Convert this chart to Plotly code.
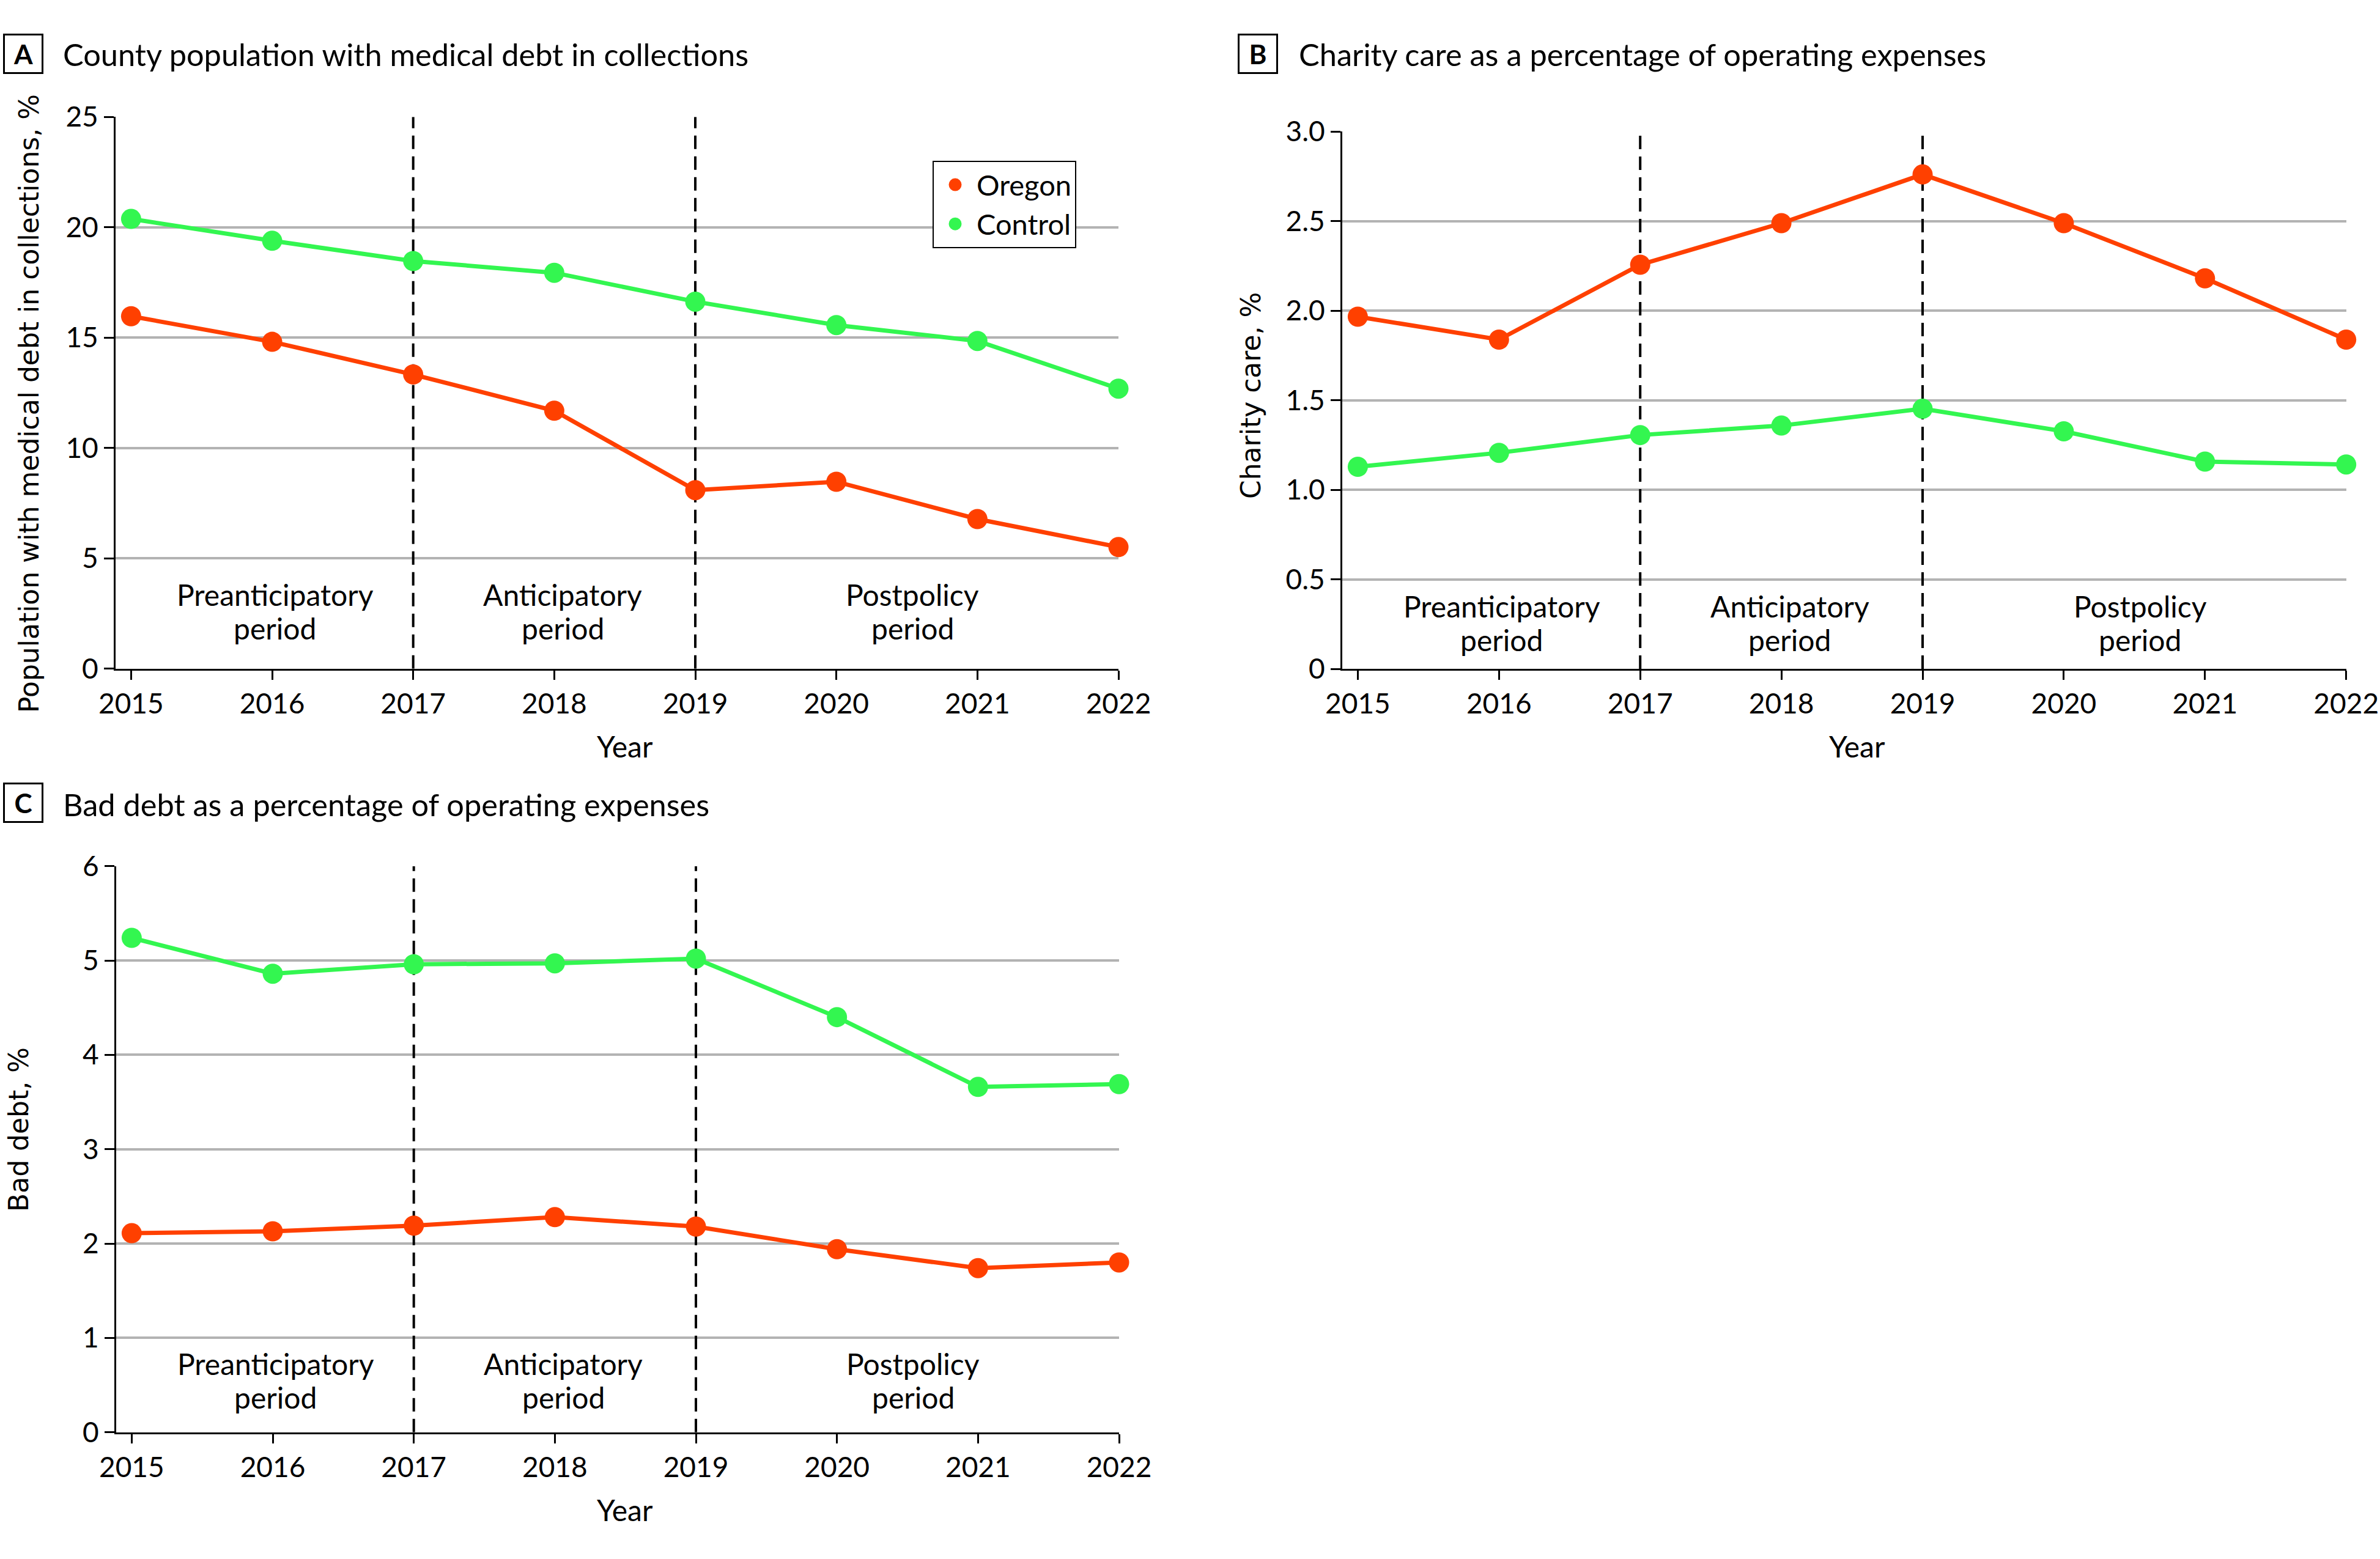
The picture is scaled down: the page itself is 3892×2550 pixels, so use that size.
import plotly.graph_objects as go

W, H = 3892, 2550

# ---------------- data ----------------
years = [2015, 2016, 2017, 2018, 2019, 2020, 2021, 2022]

debt_oregon = [15.97, 14.81, 13.33, 11.69, 8.09, 8.47, 6.78, 5.51]
debt_control = [20.38, 19.39, 18.47, 17.94, 16.63, 15.57, 14.85, 12.69]

charity_oregon = [1.966, 1.838, 2.256, 2.488, 2.760, 2.488, 2.180, 1.838]
charity_control = [1.128, 1.206, 1.305, 1.358, 1.452, 1.326, 1.157, 1.141]

baddebt_oregon = [2.11, 2.13, 2.19, 2.28, 2.18, 1.94, 1.74, 1.80]
baddebt_control = [5.24, 4.86, 4.96, 4.97, 5.02, 4.40, 3.66, 3.69]

period_breaks = [2017, 2019]
period_names = [("Preanticipatory", "period"), ("Anticipatory", "period"), ("Postpolicy", "period")]
period_centers = [2016.02, 2018.06, 2020.54]

series_names = ["Oregon", "Control"]
colors = {"Oregon": "#FF4000", "Control": "#33F650"}

yA_ticks = [0, 5, 10, 15, 20, 25]
yA_text = ["0", "5", "10", "15", "20", "25"]
yB_ticks = [0, 0.5, 1.0, 1.5, 2.0, 2.5, 3.0]
yB_text = ["0", "0.5", "1.0", "1.5", "2.0", "2.5", "3.0"]
yC_ticks = [0, 1, 2, 3, 4, 5, 6]
yC_text = ["0", "1", "2", "3", "4", "5", "6"]

panel_titles = {
    "A": "County population with medical debt in collections",
    "B": "Charity care as a percentage of operating expenses",
    "C": "Bad debt as a percentage of operating expenses",
}
y_titles = {
    "A": "Population with medical debt in collections, %",
    "B": "Charity care, %",
    "C": "Bad debt, %",
}

# ---------------- layout geometry (pixels) ----------------
def px_x(v):
    return v / W

def px_y(v):
    return 1 - v / H

panels = {
    # key: (x0, x1, ytop, ybottom) in pixels
    "A": (189, 1829, 191.3, 1093.7),
    "B": (2195, 3836.7, 215, 1094),
    "C": (190, 1830, 1416.7, 2342.7),
}

FONT = "Lato, 'Open Sans', sans-serif"
YFONT = "'DejaVu Sans', Verdana, sans-serif"

axis_ids = {"A": ("x", "y", "xaxis", "yaxis", yA_ticks, yA_text, 25),
            "B": ("x2", "y2", "xaxis2", "yaxis2", yB_ticks, yB_text, 3.0),
            "C": ("x3", "y3", "xaxis3", "yaxis3", yC_ticks, yC_text, 6)}

fig = go.Figure()

# dashed period separators (drawn first so that they sit under the series)
for key, (xid, yid, _xn, _yn, _tv, _tt, ymax) in axis_ids.items():
    for xb in period_breaks:
        fig.add_trace(go.Scatter(
            x=[xb, xb], y=[0, ymax], mode="lines", xaxis=xid, yaxis=yid,
            showlegend=False, hoverinfo="skip",
            line=dict(color="black", width=4, dash="22px,12px"),
        ))

def add_series(xa, ya, oregon, control):
    for name, vals in (("Oregon", oregon), ("Control", control)):
        fig.add_trace(go.Scatter(
            x=years, y=vals, mode="lines+markers", name=name,
            xaxis=xa, yaxis=ya, showlegend=False, cliponaxis=False,
            line=dict(color=colors[name], width=7),
            marker=dict(color=colors[name], size=33),
        ))

add_series("x", "y", debt_oregon, debt_control)
add_series("x2", "y2", charity_oregon, charity_control)
add_series("x3", "y3", baddebt_oregon, baddebt_control)

# legend-only traces
for name in series_names:
    fig.add_trace(go.Scatter(
        x=[None], y=[None], mode="markers", name=name, xaxis="x", yaxis="y",
        marker=dict(color=colors[name], size=16, line=dict(color=colors[name], width=5)),
        showlegend=True,
    ))

xaxis_common = dict(
    range=[2014.89, 2022.0], tickvals=years, ticktext=[str(y) for y in years],
    ticks="outside", ticklen=15, tickwidth=3, tickcolor="black",
    showline=True, linecolor="black", linewidth=3,
    showgrid=False, zeroline=False, automargin=False,
    tickfont=dict(family=FONT, size=46, color="black"),
)
yaxis_common = dict(
    ticks="outside", ticklen=16, tickwidth=3, tickcolor="black",
    showline=True, linecolor="black", linewidth=3,
    showgrid=True, gridcolor="#B3B3B3", gridwidth=4,
    zeroline=False, automargin=False,
    tickfont=dict(family=FONT, size=46, color="black"),
)

layout = dict(
    width=W, height=H,
    margin=dict(l=0, r=0, t=0, b=0, pad=0, autoexpand=False),
    paper_bgcolor="white", plot_bgcolor="white",
    showlegend=True,
    legend=dict(
        x=px_x(1525), y=px_y(263), xanchor="left", yanchor="top",
        bgcolor="white", bordercolor="black", borderwidth=2,
        font=dict(family=FONT, size=47, color="black"),
        itemwidth=60,
    ),
)

for key, (xid, yid, xname, yname, tv, tt, ymax) in axis_ids.items():
    x0, x1, yt, yb = panels[key]
    layout[xname] = dict(xaxis_common, domain=[px_x(x0), px_x(x1)], anchor=yid)
    layout[yname] = dict(yaxis_common, domain=[px_y(yb), px_y(yt)], anchor=xid,
                         range=[0, ymax], tickvals=tv, ticktext=tt)

fig.update_layout(**layout)

# period labels
period_y = {"A": 0.104, "B": 0.086, "C": 0.092}
for key, (xid, yid, *_rest) in axis_ids.items():
    for (l1, l2), xc in zip(period_names, period_centers):
        for txt, shift in ((l1, 27), (l2, -28)):
            fig.add_annotation(text=txt, x=xc, y=period_y[key], xref=xid,
                               yref=f"{yid} domain", showarrow=False,
                               xanchor="center", yanchor="middle", yshift=shift,
                               font=dict(family=FONT, size=48, color="black"))

# panel letters and titles
letter_pos = {"A": (38, 88), "B": (2057, 88), "C": (38, 1313)}
title_pos = {"A": (101, 88), "B": (2122, 88), "C": (101, 1315)}
for key in ("A", "B", "C"):
    lx, ly = letter_pos[key]
    fig.add_annotation(text=f"<b>{key}</b>", x=px_x(lx), y=px_y(ly), xref="paper", yref="paper",
                       showarrow=False, xanchor="center", yanchor="middle",
                       width=56, height=56, borderpad=2,
                       bordercolor="black", borderwidth=3,
                       font=dict(family=FONT, size=44, color="black"))
    tx, ty = title_pos[key]
    fig.add_annotation(text=panel_titles[key], x=px_x(tx), y=px_y(ty), xref="paper", yref="paper",
                       showarrow=False, xanchor="left", yanchor="middle",
                       font=dict(family=FONT, size=50.5, color="black"))

# y-axis titles
ytitle_pos = {"A": (48, 660), "B": (2046, 647), "C": (30, 1848)}
for key, (x, y) in ytitle_pos.items():
    fig.add_annotation(text=y_titles[key], x=px_x(x), y=px_y(y), xref="paper", yref="paper",
                       showarrow=False, textangle=-90, xanchor="center", yanchor="middle",
                       font=dict(family=YFONT, size=44, color="black"))

# x-axis titles
year_pos = {"A": (1022, 1220), "B": (3037, 1220), "C": (1022, 2469)}
for key, (x, y) in year_pos.items():
    fig.add_annotation(text="Year", x=px_x(x), y=px_y(y), xref="paper", yref="paper",
                       showarrow=False, xanchor="center", yanchor="middle",
                       font=dict(family=FONT, size=48, color="black"))

fig.write_html("out.html")
